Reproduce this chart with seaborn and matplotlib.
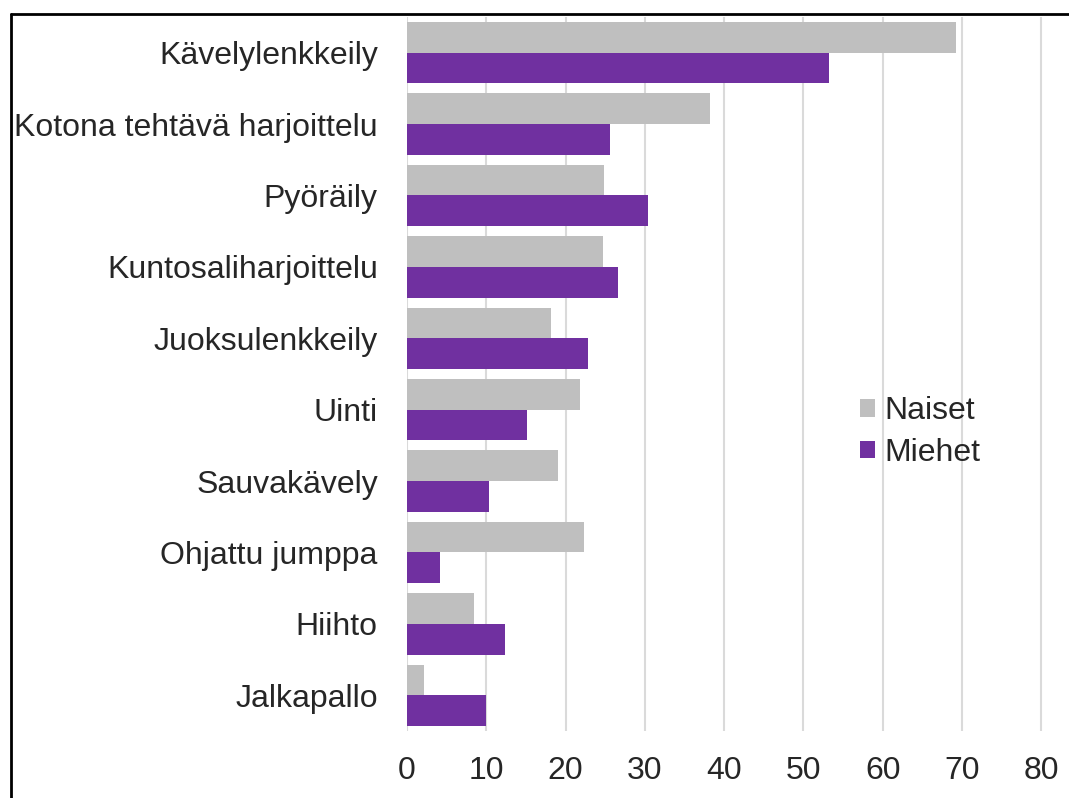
import numpy as np
import pandas as pd
import matplotlib.pyplot as plt
from matplotlib.lines import Line2D
import seaborn as sns

# Activities, top to bottom
activities = [
    "Kävelylenkkeily",
    "Kotona tehtävä harjoittelu",
    "Pyöräily",
    "Kuntosaliharjoittelu",
    "Juoksulenkkeily",
    "Uinti",
    "Sauvakävely",
    "Ohjattu jumppa",
    "Hiihto",
    "Jalkapallo",
]

# Share of respondents (%)
naiset = [69.2, 38.2, 24.9, 24.7, 18.2, 21.8, 19.0, 22.3, 8.5, 2.1]
miehet = [53.2, 25.6, 30.4, 26.6, 22.8, 15.1, 10.4, 4.2, 12.4, 10.0]

x_ticks = [0, 10, 20, 30, 40, 50, 60, 70, 80]

GRAY = "#BFBFBF"
PURPLE = "#7030A0"
TEXT = "#262626"

df = pd.DataFrame({
    "activity": activities * 2,
    "value": naiset + miehet,
    "group": ["Naiset"] * len(naiset) + ["Miehet"] * len(miehet),
})

sns.set_theme(style="white")
plt.rcParams["font.family"] = ["Liberation Sans", "DejaVu Sans"]

fig = plt.figure(figsize=(10.69, 7.98), dpi=100)
ax = fig.add_axes([0.3807, 0.084, 0.6193, 0.8947])

sns.barplot(
    data=df,
    x="value",
    y="activity",
    hue="group",
    order=activities,
    hue_order=["Naiset", "Miehet"],
    palette={"Naiset": GRAY, "Miehet": PURPLE},
    width=0.86,
    orient="h",
    saturation=1,
    linewidth=0,
    ax=ax,
    zorder=2,
)

ax.set_xlim(0, 83.5)
ax.set_xticks(x_ticks)
ax.xaxis.grid(True, color="#DADADA", linewidth=1.5, zorder=0)
ax.set_axisbelow(True)
for s in ax.spines.values():
    s.set_visible(False)
ax.set_xlabel("")
ax.set_ylabel("")
ax.tick_params(axis="y", length=0, pad=21, labelsize=23, labelcolor=TEXT)
ax.tick_params(axis="x", length=0, pad=18, labelsize=23, labelcolor=TEXT)

ax.legend(
    loc="center left",
    bbox_to_anchor=(0.8045, 0.4586),
    bbox_transform=fig.transFigure,
    frameon=False,
    fontsize=23,
    handlelength=0.47,
    handleheight=0.47,
    handletextpad=0.3,
    labelspacing=0.37,
    borderpad=0,
    borderaxespad=0,
    labelcolor=TEXT,
)

# frame of the original screenshot (top and left edges)
fig.add_artist(Line2D([11 / 1069, 1.0], [1 - 14 / 798, 1 - 14 / 798],
                      transform=fig.transFigure, color="black", linewidth=2))
fig.add_artist(Line2D([11 / 1069, 11 / 1069], [0.0, 1 - 14 / 798],
                      transform=fig.transFigure, color="black", linewidth=2))

fig.savefig("out.png", dpi=100)
